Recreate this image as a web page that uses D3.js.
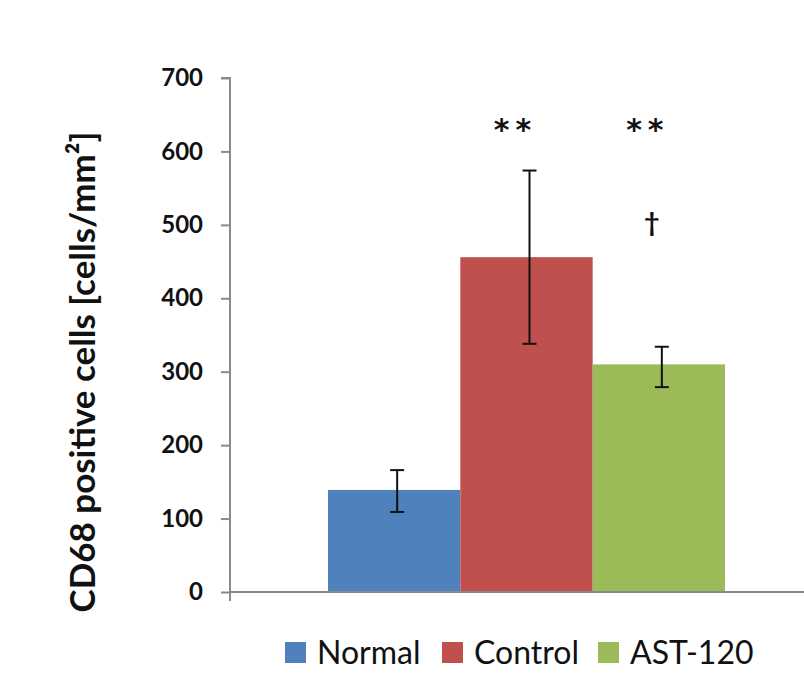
<!DOCTYPE html>
<html><head><meta charset="utf-8">
<script src="https://cdn.jsdelivr.net/npm/d3@7"></script>
<style>body{margin:0;background:#fff}svg{display:block}</style>
</head><body>
<script>
const categories = ["Normal", "Control", "AST-120"];
const values = [139, 456, 310];
const errLow = [109, 338, 279];
const errHigh = [166, 574, 334];
const colors = ["#4F81BD", "#C0504D", "#9BBB59"];
const markers = ["", "**", "**"];
const markers2 = ["", "", "†"];
const yTicks = [0, 100, 200, 300, 400, 500, 600, 700];
const yTitle = "CD68 positive cells [cells/mm²]";

const W = 804, H = 677;
const svg = d3.select("body").append("svg").attr("width", W).attr("height", H);
const y = d3.scaleLinear().domain([0, 700]).range([592, 78]);
const x = d3.scaleBand().domain(categories).range([328, 725]).padding(0);
const font = "Lato, 'Open Sans', sans-serif";
const axisColor = "#8a8a8a";

// bars
svg.selectAll("rect.bar").data(categories).join("rect")
  .attr("x", d => x(d)).attr("width", x.bandwidth())
  .attr("y", (d, i) => y(values[i])).attr("height", (d, i) => y(0) - y(values[i]))
  .attr("fill", (d, i) => colors[i]);

// y axis
const yAxis = svg.append("g").attr("transform", "translate(230,0)")
  .call(d3.axisLeft(y).tickValues(yTicks).tickSize(9).tickPadding(18));
yAxis.selectAll("path, line").attr("stroke", axisColor).attr("stroke-width", 2);
yAxis.select(".domain").attr("d", `M-9,${y(700)}H0V${y(0)}`);
yAxis.selectAll("text").attr("font-family", font).attr("font-weight", "bold")
  .attr("font-size", 24).attr("fill", "#111");

// x axis
svg.append("line").attr("x1", 230).attr("x2", W + 20).attr("y1", y(0)).attr("y2", y(0))
  .attr("stroke", axisColor).attr("stroke-width", 2);
svg.append("line").attr("x1", 230).attr("x2", 230).attr("y1", y(0)).attr("y2", y(0) + 9)
  .attr("stroke", axisColor).attr("stroke-width", 2);

// error bars
const cx = d => x(d) + x.bandwidth() / 2 + 3;
const eb = svg.append("g").attr("stroke", "#111").attr("stroke-width", 2);
categories.forEach((d, i) => {
  eb.append("line").attr("x1", cx(d)).attr("x2", cx(d)).attr("y1", y(errLow[i])).attr("y2", y(errHigh[i]));
  eb.append("line").attr("x1", cx(d) - 7).attr("x2", cx(d) + 7).attr("y1", y(errLow[i])).attr("y2", y(errLow[i]));
  eb.append("line").attr("x1", cx(d) - 7).attr("x2", cx(d) + 7).attr("y1", y(errHigh[i])).attr("y2", y(errHigh[i]));
});

// significance markers
svg.selectAll("text.m").data(categories).join("text")
  .attr("x", d => x(d) + x.bandwidth() / 2 - 11).attr("y", 140)
  .attr("text-anchor", "middle").attr("font-family", "'DejaVu Sans', sans-serif").attr("font-weight", "bold")
  .attr("font-size", 30).attr("letter-spacing", 6).attr("fill", "#111")
  .text((d, i) => markers[i]);
svg.selectAll("text.m2").data(categories).join("text")
  .attr("x", d => x(d) + x.bandwidth() / 2 - 7).attr("y", 232)
  .attr("text-anchor", "middle").attr("font-family", font).attr("font-weight", "bold")
  .attr("font-size", 27).attr("fill", "#111")
  .text((d, i) => markers2[i]);

// y title
const t = svg.append("text").attr("transform", "translate(95,372) rotate(-90)")
  .attr("text-anchor", "middle").attr("font-family", font).attr("font-weight", "bold")
  .attr("font-size", 30).attr("fill", "#111").text(yTitle);
const len = t.node().getComputedTextLength();
t.attr("font-size", 30 * 481 / len);

// legend
const legendX = [285, 442, 598];
const lg = svg.append("g");
categories.forEach((d, i) => {
  lg.append("rect").attr("x", legendX[i]).attr("y", 642).attr("width", 21).attr("height", 21).attr("fill", colors[i]);
  lg.append("text").attr("x", legendX[i] + 32).attr("y", 664).attr("font-family", font)
    .attr("font-size", 32).attr("fill", "#111").text(d);
});
</script>
</body></html>
